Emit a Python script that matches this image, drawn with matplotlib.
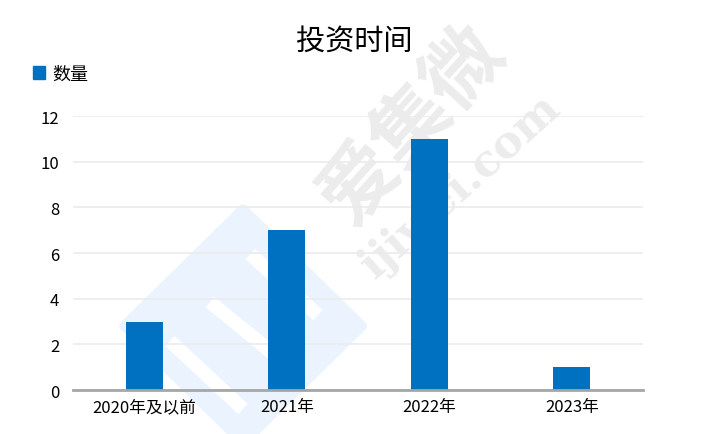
import matplotlib
matplotlib.use("Agg")
import matplotlib.pyplot as plt
from matplotlib.patches import Patch, Polygon

plt.rcParams['font.family'] = ['Noto Sans CJK SC', 'DejaVu Sans']

categories = ["2020年及以前", "2021年", "2022年", "2023年"]
values = [3, 7, 11, 1]
series_name = "数量"
title = "投资时间"
yticks = [0, 2, 4, 6, 8, 10, 12]

color = "#0070C0"
W, H = 709, 435

fig = plt.figure(figsize=(7.09, 4.35), dpi=100)

# background layer in pixel coordinates (decorative watermark)
bg = fig.add_axes([0, 0, 1, 1], zorder=-1)
bg.set_xlim(0, W)
bg.set_ylim(H, 0)
bg.axis('off')
bg.add_patch(Polygon([(243, 210), (362, 327), (243, 444), (124, 327)], closed=True,
                     facecolor='#eaf3fe', edgecolor='#eaf3fe', linewidth=7,
                     joinstyle='round'))
for (a, b) in [((250, 255), (318, 316)), ((210, 303), (298, 375)), ((170, 342), (243, 410))]:
    bg.plot([a[0], b[0]], [a[1], b[1]], color='white', linewidth=10, solid_capstyle='butt')
bg.text(412, 125, "爱集微", rotation=48, fontsize=56, color='#ececec',
        ha='center', va='center', fontweight='bold')
bg.text(460, 186, "ijiwei.com", rotation=42, fontsize=32, color='#ececec',
        ha='center', va='center', fontweight='bold', family='DejaVu Serif')

ax = fig.add_axes([0.103, 0.101, 0.804, 0.630], zorder=1)
ax.patch.set_alpha(0)

x = list(range(len(categories)))
ax.bar(x, values, width=0.26, color=color, zorder=3)
ax.set_xlim(-0.5, len(categories) - 0.5)
ax.set_ylim(0, 12)
ax.set_yticks(yticks)
ax.set_xticks(x)
ax.set_xticklabels(categories, fontsize=12)
ax.tick_params(axis='y', labelsize=12, length=0, pad=10)
ax.tick_params(axis='x', length=0, pad=6)
ax.grid(axis='y', color='#ebebeb', linewidth=1.2, zorder=0)
for s in ['top', 'right', 'left']:
    ax.spines[s].set_visible(False)
ax.spines['bottom'].set_color('#a6a6a6')
ax.spines['bottom'].set_linewidth(2)
ax.spines['bottom'].set_zorder(4)

fig.text(0.5, 0.903, title, ha='center', va='center', fontsize=21, zorder=5)
fig.legend(handles=[Patch(color=color)], labels=[series_name],
           loc='center left', bbox_to_anchor=(0.047, 0.828), frameon=False,
           fontsize=13, handlelength=0.65, handleheight=0.65, handletextpad=0.4,
           borderpad=0, borderaxespad=0)

fig.savefig("out.png", dpi=100)
